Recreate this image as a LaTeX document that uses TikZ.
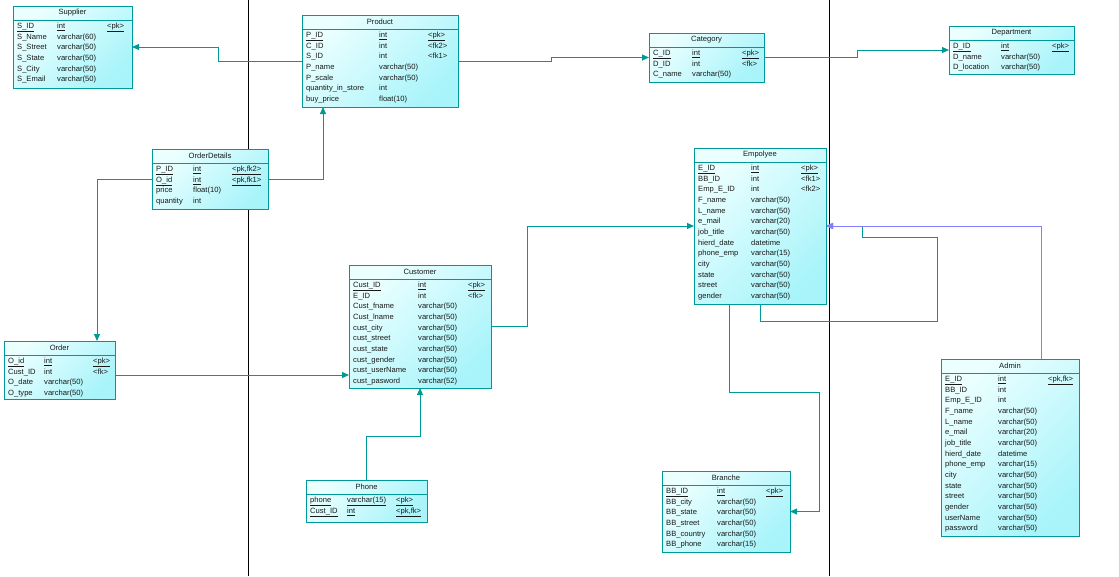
\documentclass[tikz,border=0pt]{standalone}
\usepackage{fontspec}
\setmainfont{Liberation Sans}
\usetikzlibrary{arrows.meta,calc}
\definecolor{tealA}{RGB}{0,153,153}
\definecolor{purp}{RGB}{128,128,255}
\definecolor{fillA}{RGB}{236,255,255}
\definecolor{fillB}{RGB}{168,244,250}
\tikzset{
  tbl/.style={draw=tealA, line width=1pt, left color=fillA, right color=fillB, shading angle=45, inner sep=0pt, outer sep=0pt, anchor=north west},
  cell/.style={font=\fontsize{7.6}{8}\selectfont, inner sep=0pt, anchor=base west, text=black!90},
  ttl/.style={font=\fontsize{7.6}{8}\selectfont, inner sep=0pt, anchor=center, text=black!90},
  sepline/.style={draw=tealA, line width=0.8pt},
  conn/.style={draw=tealA, line width=1pt, -{Triangle[length=7pt,width=6pt]}},
  pageline/.style={draw=black, line width=1pt}
}
% #1 name, #2 x1, #3 y1, #4 x2, #5 y2, #6 title, #7 type x, #8 key x, #9 rows
\newcommand\ertable[9]{%
  \node[tbl, minimum width={#4-#2}, minimum height={#5-#3}] (#1) at (#2,#3) {};
  \draw[sepline] ([yshift=-14pt]#1.north west) -- ([yshift=-14pt]#1.north east);
  \node[ttl] (#1-title) at ([yshift=-7pt]#1.north) {#6};
  \foreach \na/\ty/\ke [count=\i] in {#9} {
    \pgfmathsetmacro\yy{#3+20+(\i-1)*10.65+2.6}
    \node[cell] (#1-a\i) at ({#2+4},\yy) {\na};
    \node[cell] (#1-b\i) at (#7,\yy) {\ty};
    \node[cell] (#1-c\i) at (#8,\yy) {\ke};
  }%
}
\begin{document}
\begin{tikzpicture}[x=1pt,y=-1pt]
\useasboundingbox (0,0) rectangle (1119,576);
\fill[white] (0,0) rectangle (1119,576);
\coordinate (pl1top) at (248,0);
\coordinate (pl1bot) at (248,576);
\coordinate (pl2top) at (829.5,0);
\coordinate (pl2bot) at (829.5,576);
\draw[pageline] (pl1top) -- (pl1bot);
\draw[pageline] (pl2top) -- (pl2bot);

\ertable{supplier}{13}{6}{132}{88}{Supplier}{57}{107}{%
  \underline{S\_ID}/\underline{int}/\underline{<pk>},
  S\_Name/varchar(60)/{},
  S\_Street/varchar(50)/{},
  S\_State/varchar(50)/{},
  S\_City/varchar(50)/{},
  S\_Email/varchar(50)/{}}

\ertable{product}{302}{15}{458}{107}{Product}{379}{428}{%
  \underline{P\_ID}/\underline{int}/\underline{<pk>},
  C\_ID/int/<fk2>,
  S\_ID/int/<fk1>,
  P\_name/varchar(50)/{},
  P\_scale/varchar(50)/{},
  quantity\_in\_store/int/{},
  buy\_price/float(10)/{}}

\ertable{category}{649}{33}{764}{82}{Category}{692}{742}{%
  \underline{C\_ID}/\underline{int}/\underline{<pk>},
  D\_ID/int/<fk>,
  C\_name/varchar(50)/{}}

\ertable{department}{949}{26}{1074}{74}{Department}{1001}{1052}{%
  \underline{D\_ID}/\underline{int}/\underline{<pk>},
  D\_name/varchar(50)/{},
  D\_location/varchar(50)/{}}

\ertable{od}{152}{149}{268}{209}{OrderDetails}{193}{232}{%
  \underline{P\_ID}/\underline{int}/\underline{<pk,fk2>},
  \underline{O\_id}/\underline{int}/\underline{<pk,fk1>},
  price/float(10)/{},
  quantity/int/{}}

\ertable{employee}{694}{148}{826}{304}{Empolyee}{751}{801}{%
  \underline{E\_ID}/\underline{int}/\underline{<pk>},
  BB\_ID/int/<fk1>,
  Emp\_E\_ID/int/<fk2>,
  F\_name/varchar(50)/{},
  L\_name/varchar(50)/{},
  e\_mail/varchar(20)/{},
  job\_title/varchar(50)/{},
  hierd\_date/datetime/{},
  phone\_emp/varchar(15)/{},
  city/varchar(50)/{},
  state/varchar(50)/{},
  street/varchar(50)/{},
  gender/varchar(50)/{}}

\ertable{customer}{349}{265}{491}{388}{Customer}{418}{468}{%
  \underline{Cust\_ID}/\underline{int}/\underline{<pk>},
  E\_ID/int/<fk>,
  Cust\_fname/varchar(50)/{},
  Cust\_lname/varchar(50)/{},
  cust\_city/varchar(50)/{},
  cust\_street/varchar(50)/{},
  cust\_state/varchar(50)/{},
  cust\_gender/varchar(50)/{},
  cust\_userName/varchar(50)/{},
  cust\_pasword/varchar(52)/{}}

\ertable{order}{4}{341}{115}{399}{Order}{44}{93}{%
  \underline{O\_id}/\underline{int}/\underline{<pk>},
  Cust\_ID/int/<fk>,
  O\_date/varchar(50)/{},
  O\_type/varchar(50)/{}}

\ertable{phone}{306}{480}{427}{522}{Phone}{347}{396}{%
  \underline{phone}/\underline{varchar(15)}/\underline{<pk>},
  \underline{Cust\_ID}/\underline{int}/\underline{<pk,fk>}}

\ertable{branche}{662}{471}{790}{552}{Branche}{717}{766}{%
  \underline{BB\_ID}/\underline{int}/\underline{<pk>},
  BB\_city/varchar(50)/{},
  BB\_state/varchar(50)/{},
  BB\_street/varchar(50)/{},
  BB\_country/varchar(50)/{},
  BB\_phone/varchar(15)/{}}

\ertable{admin}{941}{359}{1079}{536}{Admin}{998}{1048}{%
  \underline{E\_ID}/\underline{int}/\underline{<pk,fk>},
  BB\_ID/int/{},
  Emp\_E\_ID/int/{},
  F\_name/varchar(50)/{},
  L\_name/varchar(50)/{},
  e\_mail/varchar(20)/{},
  job\_title/varchar(50)/{},
  hierd\_date/datetime/{},
  phone\_emp/varchar(15)/{},
  city/varchar(50)/{},
  state/varchar(50)/{},
  street/varchar(50)/{},
  gender/varchar(50)/{},
  userName/varchar(50)/{},
  password/varchar(50)/{}}

% connectors
\draw[conn] (product.west) -- ++(-84,0) |- (supplier.east);
\draw[conn] (product.east) -- ++(93,0) |- (category.west);
\draw[conn] (category.east) -- ++(93,0) |- (department.west);
\draw[conn] (od.east) -| ([xshift=-57pt]product.south);
\draw[conn] (od.west) -| ([xshift=37.5pt]order.north);
\draw[conn] ([yshift=-5pt]order.east) -- ([yshift=-5pt]order.east -| customer.west);
\draw[conn] (customer.east) -- ++(36,0) |- (employee.west);
\draw[conn] (phone.north) -- ++(0,-44) -| (customer.south);
\draw[conn] ([xshift=-31pt]employee.south) -- ++(0,88) -- ++(90,0) |- (branche.east);
\draw[conn] (employee.south) -- ++(0,17) -- ++(177,0) -- ++(0,-84) -- ++(-75,0) |- (employee.east);
\draw[conn, draw=purp] ([xshift=31pt]admin.north) |- (employee.east);
\end{tikzpicture}
\end{document}
